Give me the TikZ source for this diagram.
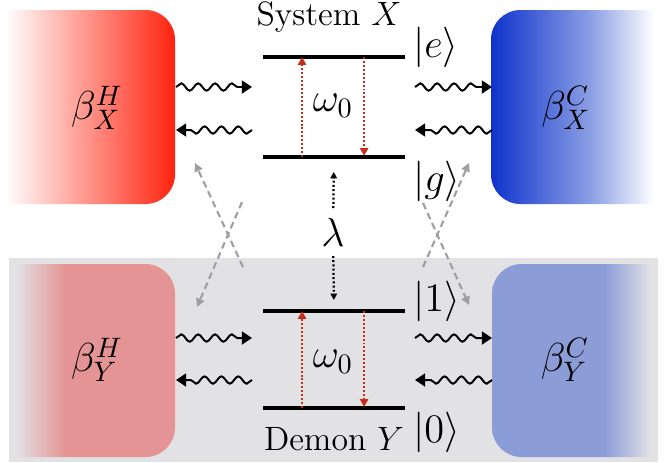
\documentclass[tikz,border=0pt]{standalone}
\usetikzlibrary{arrows.meta,decorations.pathmorphing,calc}

\definecolor{hotred}{RGB}{255,35,15}
\definecolor{coldblue}{RGB}{15,50,205}
\definecolor{coldmid}{RGB}{140,160,228}
\definecolor{hotpale}{RGB}{228,148,148}
\definecolor{coldpale}{RGB}{140,156,215}
\definecolor{demongray}{RGB}{226,226,229}
\definecolor{transred}{RGB}{200,45,25}

\pgfdeclarehorizontalshading{hotXfade}{100bp}{color(0bp)=(white); color(26.5bp)=(white); color(75bp)=(hotred); color(100bp)=(hotred)}
\pgfdeclarehorizontalshading{coldXfade}{100bp}{color(0bp)=(coldblue); color(25bp)=(coldblue); color(54bp)=(coldmid); color(72bp)=(white); color(100bp)=(white)}
\pgfdeclarehorizontalshading{hotYfade}{100bp}{color(0bp)=(demongray); color(26.8bp)=(demongray); color(42bp)=(hotpale); color(100bp)=(hotpale)}
\pgfdeclarehorizontalshading{coldYfade}{100bp}{color(0bp)=(coldpale); color(59bp)=(coldpale); color(73bp)=(demongray); color(100bp)=(demongray)}

\begin{document}
\begin{tikzpicture}[x=0.0125cm,y=-0.0125cm,font=\large,
    level/.style={line width=1.1pt},
    upket/.style={anchor=base west,inner sep=0pt,xshift=2.3pt,font=\Large},
    downket/.style={anchor=north west,inner sep=0pt,xshift=2.3pt,yshift=-0.9pt,font=\Large},
    bath/.style={font=\Large},
    mlabel/.style={font=\Large},
    transition/.style={transred,line width=0.85pt,dash pattern=on 0.7pt off 0.7pt,-{Triangle[length=2.8pt,width=2.9pt]}},
    coupling/.style={line width=0.8pt,dash pattern=on 0.7pt off 0.8pt,-{Triangle[length=2.3pt,width=2.3pt]}},
    exchange/.style={line width=0.7pt,decorate,decoration={snake,amplitude=1.3pt,segment length=6pt,post length=3.6pt},-{Triangle[length=3.6pt,width=4.6pt]}},
    crosstalk/.style={gray!75,line width=0.75pt,dash pattern=on 2.4pt off 1.5pt,-{Triangle[length=3pt,width=3pt]}}]
  \useasboundingbox (0,0) rectangle (664,462);
  % demon region
  \fill[demongray] (9,258) rectangle (658,462);
  % reservoirs
  \shade[shading=hotXfade] (0,10) [rounded corners=10.5pt] -- (175,10) -- (175,204) [sharp corners] -- (0,204) -- cycle;
  \shade[shading=coldXfade] (664,10) [rounded corners=10.5pt] -- (491,10) -- (491,204) [sharp corners] -- (664,204) -- cycle;
  \shade[shading=hotYfade] (9,264) [rounded corners=10.5pt] -- (175,264) -- (175,457) [sharp corners] -- (9,457) -- cycle;
  \shade[shading=coldYfade] (658,264) [rounded corners=10.5pt] -- (492,264) -- (492,457) [sharp corners] -- (658,457) -- cycle;
  \node[bath] (hotX) at (97,108) {$\beta^H_X$};
  \node[bath] (coldX) at (566,108) {$\beta^C_X$};
  \node[bath] (hotY) at (97,360) {$\beta^H_Y$};
  \node[bath] (coldY) at (565,360) {$\beta^C_Y$};

  % energy levels
  \coordinate (e-l) at (263,57);    \coordinate (e-r) at (405,57);
  \coordinate (g-l) at (263,157);   \coordinate (g-r) at (405,157);
  \coordinate (one-l) at (263,311); \coordinate (one-r) at (405,311);
  \coordinate (zero-l) at (263,408);\coordinate (zero-r) at (405,408);
  \draw[level] (e-l) -- (e-r) node[upket] (ket-e) {$|e\rangle$};
  \draw[level] (g-l) -- (g-r) node[downket] (ket-g) {$|g\rangle$};
  \draw[level] (one-l) -- (one-r) node[upket] (ket-one) {$|1\rangle$};
  \draw[level] (zero-l) -- (zero-r) node[downket] (ket-zero) {$|0\rangle$};
  \node[anchor=base] (sysX) at (329,25) {System $X$};
  \node[anchor=base] (demY) at (334,450) {Demon $Y$};

  % transitions
  \draw[transition] ($(g-l)!0.275!(g-r)$) -- ($(e-l)!0.275!(e-r)$);
  \draw[transition,shorten >=0.4pt] ($(e-l)!0.712!(e-r)$) -- ($(g-l)!0.712!(g-r)$);
  \draw[transition] ($(zero-l)!0.275!(zero-r)$) -- ($(one-l)!0.275!(one-r)$);
  \draw[transition,shorten >=0.4pt] ($(one-l)!0.712!(one-r)$) -- ($(zero-l)!0.712!(zero-r)$);
  \node[mlabel] (omX) at (333,106) {$\omega_0$};
  \node[mlabel] (omY) at (333,362) {$\omega_0$};

  % coupling
  \node[mlabel] (lam) at (333,232) {$\lambda$};
  \draw[coupling,shorten >=5.3pt] (lam) -- ($(g-l)!0.5!(g-r)$);
  \draw[coupling,shorten >=3.9pt] (lam) -- ($(one-l)!0.5!(one-r)$);

  % heat exchange
  \foreach \row/\ya/\yb in {X/87/130,Y/338/380}{
    \coordinate (h\row-a) at (176,\ya);  \coordinate (h\row-b) at (176,\yb);
    \coordinate (l\row-a) at (252,\ya);  \coordinate (l\row-b) at (252,\yb);
    \coordinate (r\row-a) at (415,\ya);  \coordinate (r\row-b) at (415,\yb);
    \coordinate (c\row-a) at (492,\ya);  \coordinate (c\row-b) at (492,\yb);
    \draw[exchange] (h\row-a) -- (l\row-a);
    \draw[exchange] (l\row-b) -- (h\row-b);
    \draw[exchange] (r\row-a) -- (c\row-a);
    \draw[exchange] (c\row-b) -- (r\row-b);
  }

  % cross couplings
  \coordinate (xl1) at (243,267); \coordinate (xl1t) at (195,163);
  \coordinate (xl2) at (242,202); \coordinate (xl2t) at (197,307);
  \coordinate (xr1) at (423,267); \coordinate (xr1t) at (469,163);
  \coordinate (xr2) at (423,203); \coordinate (xr2t) at (469,305);
  \draw[crosstalk] (xl1) -- (xl1t);
  \draw[crosstalk] (xl2) -- (xl2t);
  \draw[crosstalk] (xr1) -- (xr1t);
  \draw[crosstalk] (xr2) -- (xr2t);
\end{tikzpicture}
\end{document}
